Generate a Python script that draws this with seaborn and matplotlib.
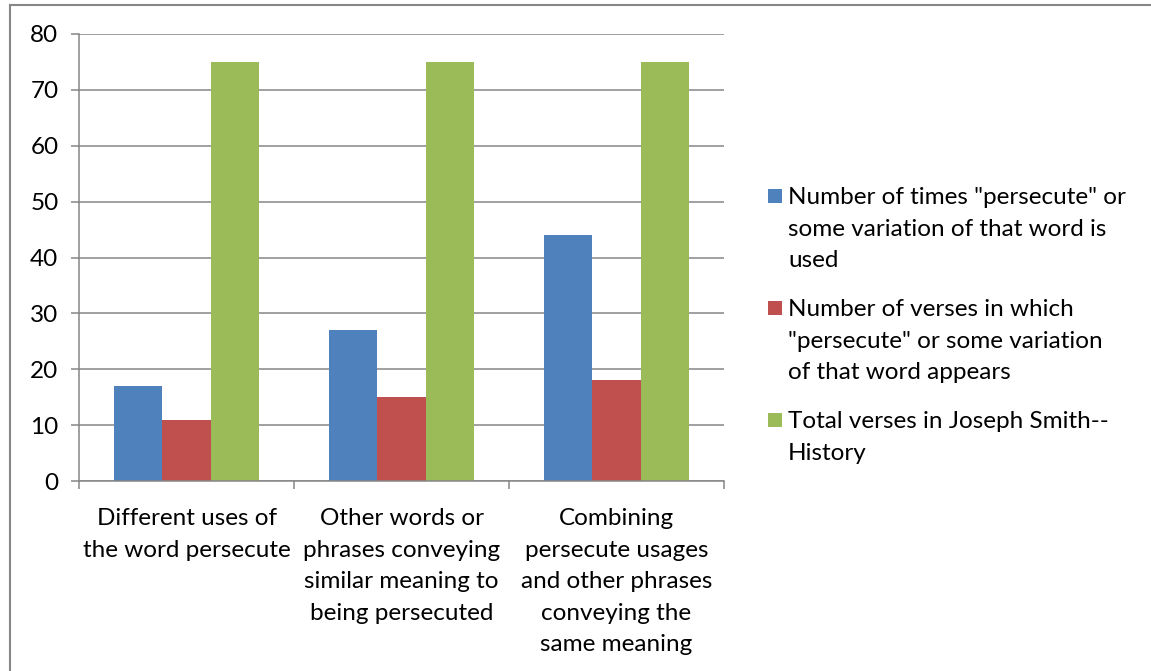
import matplotlib
matplotlib.use("Agg")
import matplotlib.pyplot as plt
import seaborn as sns
import pandas as pd
from matplotlib.patches import Rectangle

categories = [
    "Different uses of\nthe word persecute",
    "Other words or\nphrases conveying\nsimilar meaning to\nbeing persecuted",
    "Combining\npersecute usages\nand other phrases\nconveying the\nsame meaning",
]
series_names = [
    "Number of times \"persecute\" or\nsome variation of that word is\nused",
    "Number of verses in which\n\"persecute\" or some variation\nof that word appears",
    "Total verses in Joseph Smith--\nHistory",
]
times_used = [17, 27, 44]
verses_appears = [11, 15, 18]
total_verses = [75, 75, 75]
yticks = [0, 10, 20, 30, 40, 50, 60, 70, 80]
colors = ["#4F81BD", "#C0504D", "#9BBB59"]

rows = []
for s, vals in zip(series_names, [times_used, verses_appears, total_verses]):
    for c, v in zip(categories, vals):
        rows.append({"category": c, "series": s, "value": v})
df = pd.DataFrame(rows)

sns.set_theme(style="white")
plt.rcParams["font.family"] = ["Lato", "DejaVu Sans"]
FS = 17.5
LS = 1.62
plt.rcParams["font.size"] = FS

W, H = 1151, 671
fig = plt.figure(figsize=(W / 100, H / 100), dpi=100)
ax = fig.add_axes([79 / W, 1 - 481 / H, (724 - 79) / W, (481 - 34) / H])

sns.barplot(data=df, x="category", y="value", hue="series", order=categories,
            hue_order=series_names, palette=colors, saturation=1, width=0.67,
            ax=ax, legend=False, linewidth=0)

grid_c = "#868686"
ax.set_ylim(0, 80)
ax.set_xlim(-0.5, 2.5)
ax.set_yticks(yticks)
ax.set_yticklabels([str(t) for t in yticks], fontsize=FS, color="black")
ax.yaxis.grid(True, color=grid_c, linewidth=1.1)
ax.set_axisbelow(True)
ax.tick_params(axis="y", length=5.8, width=1.1, color=grid_c, pad=9, left=True)
ax.set_xticks(range(len(categories)))
ax.set_xticklabels(categories, fontsize=FS, color="black", linespacing=LS)
ax.tick_params(axis="x", which="major", length=0, pad=19.5)
ax.set_xticks([-0.5, 0.5, 1.5, 2.5], minor=True)
ax.tick_params(axis="x", which="minor", length=5.5, width=1.1, color=grid_c, bottom=True)
ax.set_xlabel("")
ax.set_ylabel("")
for side in ["top", "right"]:
    ax.spines[side].set_visible(False)
for side in ["left", "bottom"]:
    ax.spines[side].set_color(grid_c)
    ax.spines[side].set_linewidth(1.1)

# Legend (manual, handle aligned to first line)
y0 = 196
for i, (name, col) in enumerate(zip(series_names, colors)):
    yc = y0 + i * 112
    fig.patches.append(Rectangle((768 / W, 1 - (yc + 7) / H), 14 / W, 14 / H,
                                 transform=fig.transFigure, facecolor=col,
                                 edgecolor="none"))
    fig.text(788 / W, 1 - (yc - 9) / H, name, fontsize=FS, va="top", ha="left",
             linespacing=LS, color="black")

# outer chart border
fig.patches.append(Rectangle((9.5 / W, -0.1), 1.2, 1 - 4.5 / H + 0.1,
                             transform=fig.transFigure, facecolor="none",
                             edgecolor=grid_c, linewidth=1.5))

fig.savefig("out.png", dpi=100)
